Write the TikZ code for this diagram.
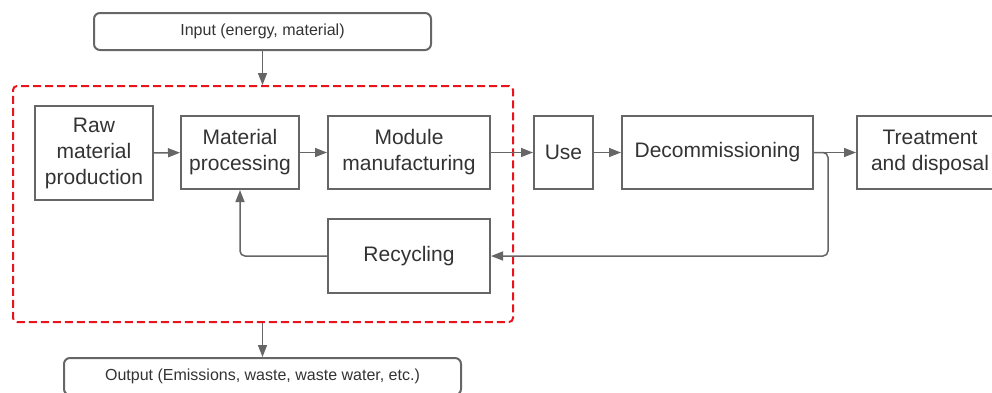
\documentclass[tikz,border=0pt]{standalone}
\usepackage{fontspec}
\setmainfont{Liberation Sans}
\usetikzlibrary{arrows.meta}

\definecolor{boxgray}{HTML}{666666}
\definecolor{textgray}{HTML}{333333}
\definecolor{dashred}{HTML}{E8141B}

\begin{document}
\begin{tikzpicture}[x=1pt,y=-1pt,
  stage/.style={draw=boxgray, line width=2pt, text=textgray, align=center,
    inner sep=0pt, font=\fontsize{21}{26}\selectfont},
  term/.style={draw=boxgray, line width=2pt, rounded corners=6pt, text=textgray,
    inner sep=0pt, minimum height=37pt, font=\fontsize{16}{19}\selectfont},
  flow/.style={draw=boxgray, line width=1.5pt, -{Triangle[length=12pt,width=9pt]}}]
  \clip (0,0) rectangle (992,392);

  % System boundary
  \node[draw=dashred, line width=2pt, dash pattern=on 8pt off 4pt, rounded corners=4pt,
    minimum width=500pt, minimum height=236pt] (system) at (263,204) {};

  % Input and output
  \node[term, minimum width=337pt] (input) at (262.5,31.5) {Input (energy, material)};
  \node[term, minimum width=397pt] (output) at (262.5,376.5) {Output (Emissions, waste, waste water, etc.)};

  % Life cycle stages
  \node[stage, minimum width=118pt, minimum height=94pt] (raw) at (94,153) {Raw\\material\\production};
  \node[stage, minimum width=118pt, minimum height=73pt] (matproc) at (240,152.5) {Material\\processing};
  \node[stage, minimum width=162pt, minimum height=73pt] (module) at (409,152.5) {Module\\manufacturing};
  \node[stage, minimum width=59pt, minimum height=73pt] (use) at (563.5,152.5) {Use};
  \node[stage, minimum width=191pt, minimum height=73pt] (decom) at (717.5,152.5) {Decommissioning};
  \node[stage, minimum width=146pt, minimum height=73pt] (treat) at (930,152.5) {Treatment\\and disposal};
  \node[stage, minimum width=162pt, minimum height=74pt] (recyc) at (409,256) {Recycling};
  \coordinate (branch) at (828,152.5);

  % Flows
  \draw[flow] (input.south) -- (input.south |- system.north);
  \draw[flow] (system.south -| output.north) -- (output.north);
  \draw[flow] (raw) -- (matproc);
  \draw[flow] (matproc) -- (module);
  \draw[flow] (module) -- (use);
  \draw[flow] (use) -- (decom);
  \draw[flow] (decom) -- (treat);
  \draw[flow, rounded corners=5pt] (decom.east) -- (branch) |- (recyc.east);
  \draw[flow, rounded corners=5pt] (recyc.west) -| (matproc.south);
\end{tikzpicture}
\end{document}
